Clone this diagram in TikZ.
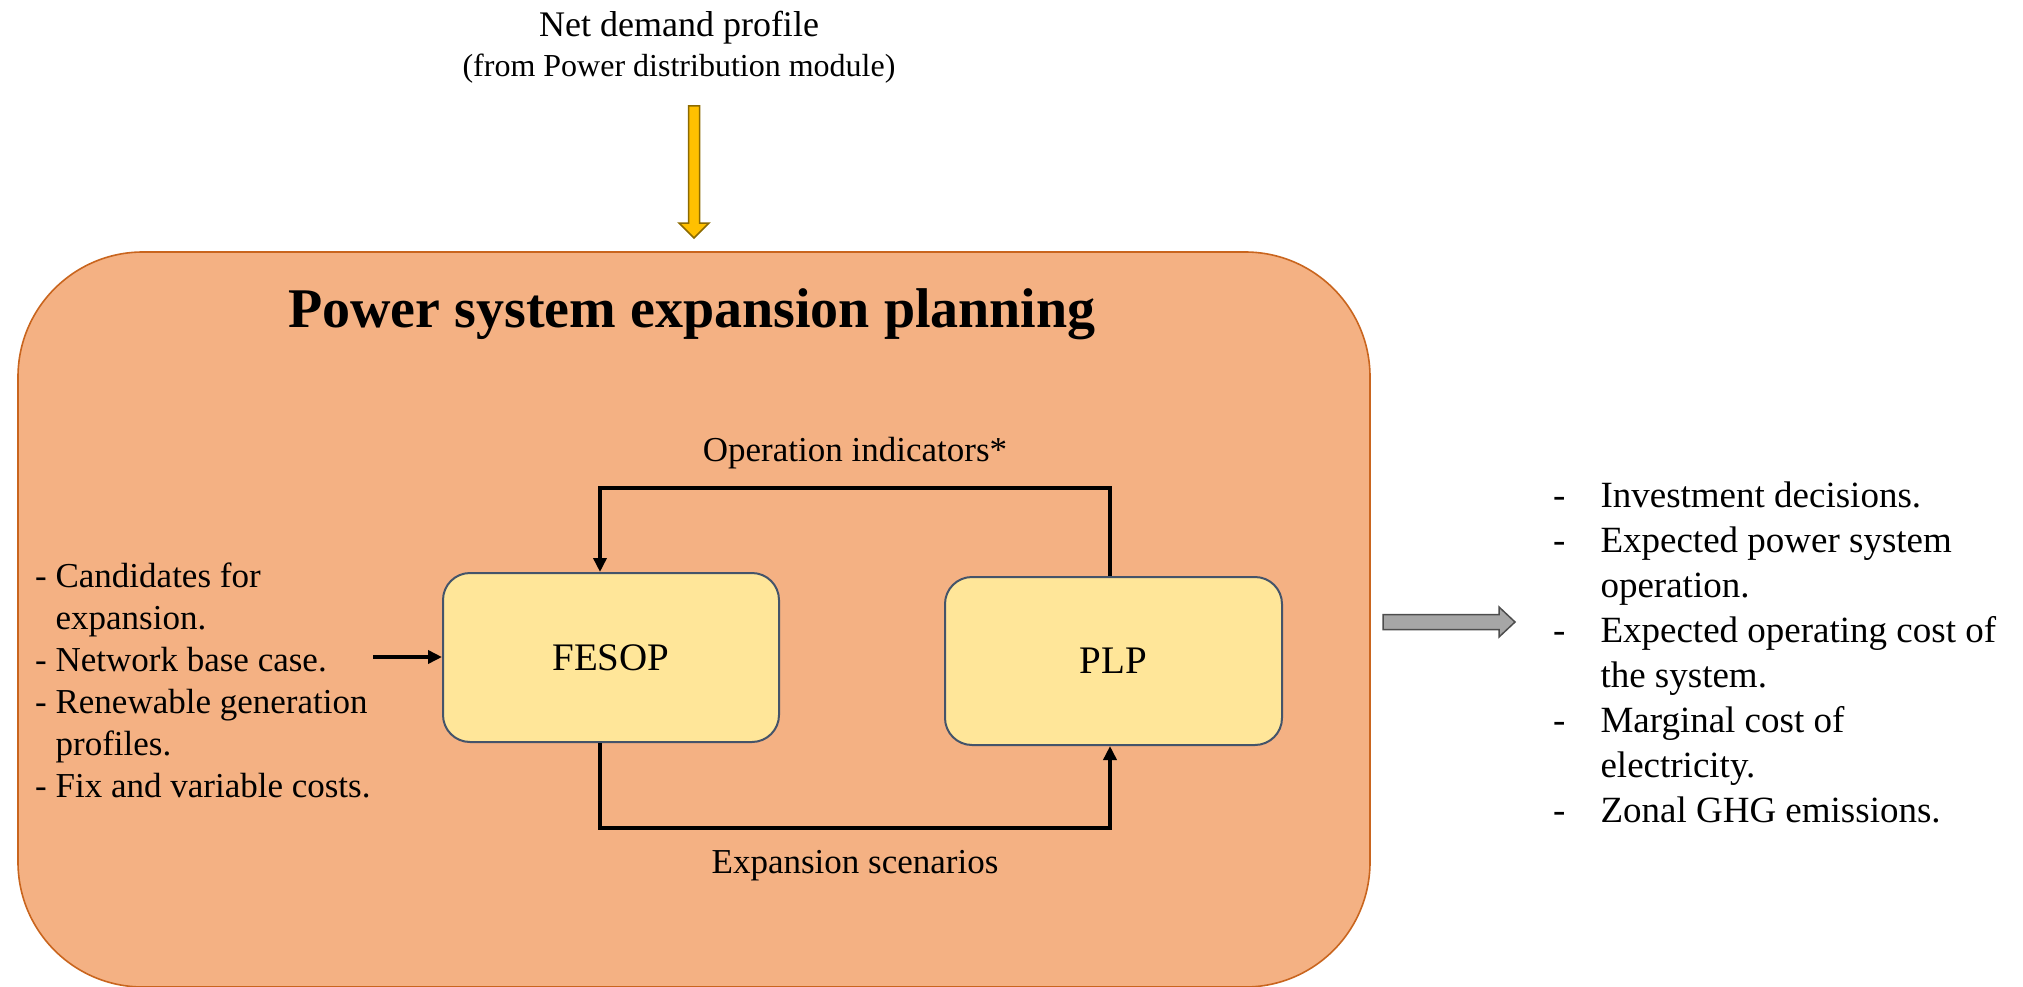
\documentclass[tikz,border=0pt]{standalone}
\usepackage{fontspec}
\setmainfont{Liberation Serif}
\usetikzlibrary{arrows.meta,calc}

\definecolor{planfill}{HTML}{F4B183}
\definecolor{planline}{HTML}{C9651E}
\definecolor{modfill}{HTML}{FFE699}
\definecolor{modline}{HTML}{44546A}
\definecolor{feedfill}{HTML}{FFC000}
\definecolor{feedline}{HTML}{8C6A00}
\definecolor{outfill}{HTML}{A6A6A6}
\definecolor{outline}{HTML}{4D4D4D}

\tikzset{
  mainbox/.style={draw=planline, fill=planfill, line width=1.6pt, rounded corners=125pt, inner sep=0pt},
  module/.style={draw=modline, fill=modfill, line width=2pt, rounded corners=27pt, inner sep=0pt,
                 font=\fontsize{39}{46}\selectfont},
  link/.style={line width=3.5pt, -{Triangle[length=14pt,width=13pt]}},
  lbl/.style={inner sep=0pt, font=\fontsize{35}{42}\selectfont},
  listtext/.style={inner sep=0pt, font=\fontsize{35}{42}\selectfont},
  outtext/.style={inner sep=0pt, font=\fontsize{37}{45}\selectfont},
  yarrow/.style={draw=feedline, fill=feedfill, line width=1.5pt, line join=miter},
  garrow/.style={draw=outline, fill=outfill, line width=1.5pt, line join=miter},
}

\begin{document}
\begin{tikzpicture}[x=1pt,y=-1pt]
\useasboundingbox (0,0) rectangle (2023,987);

% incoming demand profile
\node[anchor=base, inner sep=0pt, font=\fontsize{36}{42}\selectfont] (demand) at (679,37) {Net demand profile};
\node[anchor=base, inner sep=0pt, font=\fontsize{32}{38}\selectfont] (demandsrc) at (679,77) {(from Power distribution module)};

\coordinate (ytail) at (694,106);
\coordinate (ytip) at (694,238);
\draw[yarrow] ($(ytail)+(-5.5,0)$) -- ($(ytail)+(5.5,0)$) -- ($(ytip)+(5.5,-15)$)
  -- ($(ytip)+(15,-15)$) -- (ytip) -- ($(ytip)+(-15,-15)$) -- ($(ytip)+(-5.5,-15)$) -- cycle;

% planning block
\node[mainbox, minimum width=1352pt, minimum height=735pt] (psep) at (694,619.5) {};
\node[anchor=base, inner sep=0pt, font=\fontsize{56}{66}\selectfont\bfseries] (title) at (692,327)
  {Power system expansion planning};

\node[module, minimum width=336pt, minimum height=169pt] (fesop) at (611,657.5) {FESOP};
\node[module, minimum width=337pt, minimum height=168pt] (plp) at (1113.5,661) {PLP};

% iteration loop
\coordinate (fx) at (600,0);
\coordinate (px) at (1110,0);
\coordinate (ytop) at (0,488);
\coordinate (ybot) at (0,828);
\draw[link] (plp.north -| px) -- (px |- ytop) -- (fx |- ytop) -- (fesop.north -| fx);
\draw[link] (fesop.south -| fx) -- (fx |- ybot) -- (px |- ybot) -- (plp.south -| px);
\node[lbl, anchor=base] (opind) at (855,461.6) {Operation indicators*};
\node[lbl, anchor=base] (expsc) at (855,873.6) {Expansion scenarios};

% inputs
\node[listtext, anchor=north west] (inputs) at (35,557.6) {%
  \begin{tabular}{@{}l@{\ }l@{}}
  - & Candidates for\\
    & expansion.\\
  - & Network base case.\\
  - & Renewable generation\\
    & profiles.\\
  - & Fix and variable costs.
  \end{tabular}};
\coordinate (src) at (373,657);
\draw[link] (src) -- (fesop.west |- src);

% outputs
\coordinate (gtail) at (1383,622);
\coordinate (gtip) at (1515,622);
\draw[garrow] ($(gtail)+(0,-7.5)$) -- ($(gtip)+(-16,-7.5)$) -- ($(gtip)+(-16,-15)$) -- (gtip)
  -- ($(gtip)+(-16,15)$) -- ($(gtip)+(-16,7.5)$) -- ($(gtail)+(0,7.5)$) -- cycle;

\node[outtext, anchor=north west] (outputs) at (1553,475.5) {%
  \begin{tabular}{@{}l@{\hspace{35pt}}l@{}}
  - & Investment decisions.\\
  - & Expected power system\\
    & operation.\\
  - & Expected operating cost of\\
    & the system.\\
  - & Marginal cost of\\
    & electricity.\\
  - & Zonal GHG emissions.
  \end{tabular}};
\end{tikzpicture}
\end{document}
